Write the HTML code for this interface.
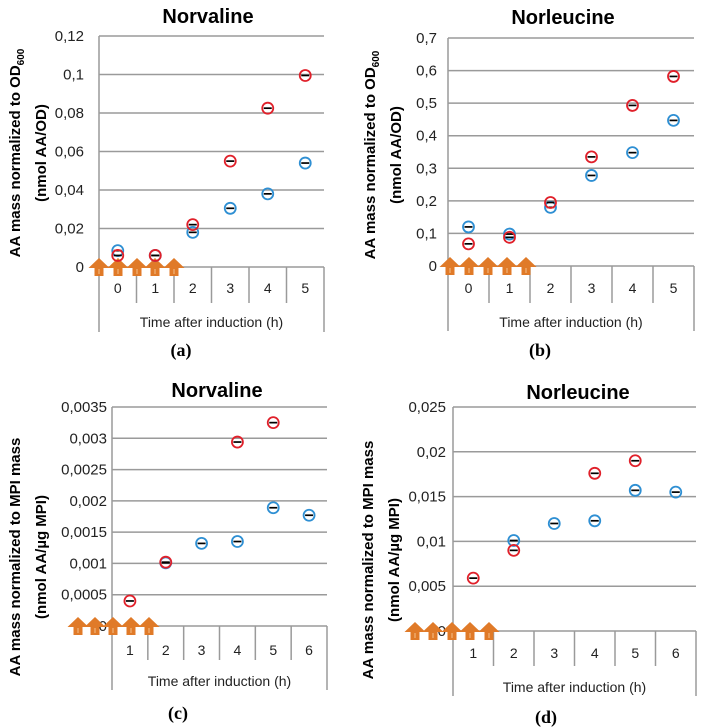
<!DOCTYPE html>
<html><head><meta charset="utf-8">
<style>
html,body{margin:0;padding:0;background:#fff;}
svg{display:block;font-family:"Liberation Sans",sans-serif;}
.tick{font-size:15px;fill:#222;}
.title{font-size:20px;font-weight:bold;fill:#000;}
.ylab{font-size:15px;font-weight:bold;fill:#000;}
.cat{font-size:14px;fill:#222;}
.panel{font-size:18px;font-weight:bold;font-family:"Liberation Serif",serif;fill:#000;}
</style></head>
<body>
<svg id="fig" width="706" height="728" viewBox="0 0 706 728"></svg>
<script>
// Panel (a) data
const catsA = ["0","1","2","3","4","5"];
const redA = [0.006,0.006,0.022,0.055,0.0825,0.0995];
const blueA = [0.0085,0.006,0.018,0.0305,0.038,0.054];
const ticksA = ["0","0,02","0,04","0,06","0,08","0,1","0,12"];
// Panel (b) data
const catsB = ["0","1","2","3","4","5"];
const redB = [0.068,0.088,0.195,0.335,0.493,0.582];
const blueB = [0.12,0.098,0.18,0.278,0.348,0.447];
const ticksB = ["0","0,1","0,2","0,3","0,4","0,5","0,6","0,7"];
// Panel (c) data
const catsC = ["1","2","3","4","5","6"];
const redC = [0.0004,0.00102,null,0.00294,0.00325,null];
const blueC = [null,0.00101,0.00132,0.00135,0.00189,0.00177];
const ticksC = ["0","0,0005","0,001","0,0015","0,002","0,0025","0,003","0,0035"];
// Panel (d) data
const catsD = ["1","2","3","4","5","6"];
const redD = [0.0059,0.009,null,0.0176,0.019,null];
const blueD = [null,0.0101,0.012,0.0123,0.0157,0.0155];
const ticksD = ["0","0,005","0,01","0,015","0,02","0,025"];

const NS="http://www.w3.org/2000/svg";
const svg=document.getElementById('fig');
function mk(tag,attrs,parent,text){const e=document.createElementNS(NS,tag);for(const k in attrs)e.setAttribute(k,attrs[k]);if(text!==undefined)e.textContent=text;(parent||svg).appendChild(e);return e;}

function panel(cfg){
  const g=mk('g',{});
  
  
  const x0=cfg.x0,x1=cfg.x1,yTop=cfg.yTop,yBase=cfg.yBase;
  const step=cfg.step, maxV=step*(cfg.ticks.length-1);
  const ys=v=>yBase-(v/maxV)*(yBase-yTop);
  const n=cfg.cats.length, bw=(x1-x0)/n;
  const xs=i=>x0+bw*(i+0.5);
  cfg.ticks.forEach((t,i)=>{
    const y=ys(i*step);
    const l=mk('line',{x1:x0,x2:x1,y1:y,y2:y,stroke:'#9a9a9a','stroke-width':1.5},g);
    
    
    const tx=mk('text',{x:cfg.tickX,y:y+5,'text-anchor':'end',class:'tick'},g,t);
    
    
  });
  mk('line',{x1:x0,x2:x0,y1:yTop,y2:cfg.yEnd,stroke:'#9a9a9a','stroke-width':1.5},g);
  mk('line',{x1:x1,x2:x1,y1:yBase,y2:cfg.yEnd,stroke:'#9a9a9a','stroke-width':1.5},g);
  for(let i=1;i<n;i++){mk('line',{x1:x0+bw*i,x2:x0+bw*i,y1:yBase,y2:cfg.yMid,stroke:'#9a9a9a','stroke-width':1.5},g);}
  cfg.cats.forEach((c,i)=>{
    const t=mk('text',{x:xs(i),y:cfg.catY,'text-anchor':'middle',class:'cat'},g,c);
    
    
  });
  const xt=mk('text',{x:(x0+x1)/2,y:cfg.timeY,'text-anchor':'middle',class:'cat'},g,'Time after induction (h)');
  
  
  const tt=mk('text',{x:cfg.titleX,y:cfg.titleY,'text-anchor':'middle',class:'title'},g,cfg.title);
  
  
  const yl=mk('text',{transform:`translate(${cfg.ylX},${cfg.ylY}) rotate(-90)`,'text-anchor':'middle',class:'ylab'},g);
  
  
  const t1=mk('tspan',{x:0,y:0},yl,cfg.yl1);
  if(cfg.sub){mk('tspan',{'font-size':'10px',dy:4},t1,cfg.sub);}
  mk('tspan',{x:0,y:26},yl,cfg.yl2);
  const pl=mk('text',{x:cfg.plX,y:cfg.plY,'text-anchor':'middle',class:'panel'},g,cfg.letter);
  
  
  cfg.arrows.forEach(ax=>{
    const a=mk('path',{d:`M${ax} ${yBase-9} L${ax+10.5} ${yBase+1} L${ax+4.5} ${yBase+1} L${ax+4.5} ${yBase+9} L${ax-4.5} ${yBase+9} L${ax-4.5} ${yBase+1} L${ax-10.5} ${yBase+1} Z`,fill:'#e07a28'},g);
    
    
    mk('line',{x1:ax,x2:ax,y1:yBase+2,y2:yBase+7,stroke:'#f5c08a','stroke-width':1},g);
  });
  function series(vals,color,name){
    vals.forEach((v,i)=>{
      if(v===null)return;
      const cx=xs(i),cy=ys(v);
      const c=mk('circle',{cx:cx,cy:cy,r:5.5,fill:'none',stroke:color,'stroke-width':1.8},g);
      
      
      const e=mk('line',{x1:cx-4,x2:cx+4,y1:cy,y2:cy,stroke:'#000','stroke-width':1.7},g);
      
      
    });
  }
  series(cfg.blue,'#2e8fd3','blue-series');
  series(cfg.red,'#e0202a','red-series');
}

panel({id:'panel-a',title:'Norvaline',titleX:208,titleY:23,cats:catsA,red:redA,blue:blueA,ticks:ticksA,step:0.02,
  x0:99,x1:324,yTop:36,yBase:267,yMid:303,yEnd:332,catY:293,timeY:327,tickX:84,
  ylX:20,ylY:153,yl1:'AA mass normalized to OD',sub:'600',yl2:'(nmol AA/OD)',letter:'(a)',plX:181,plY:356,
  arrows:[99,118,137,155,174]});
panel({id:'panel-b',title:'Norleucine',titleX:563,titleY:24,cats:catsB,red:redB,blue:blueB,ticks:ticksB,step:0.1,
  x0:448,x1:694,yTop:38,yBase:266,yMid:303,yEnd:331,catY:293,timeY:327,tickX:437,
  ylX:375,ylY:155,yl1:'AA mass normalized to OD',sub:'600',yl2:'(nmol AA/OD)',letter:'(b)',plX:540,plY:356,
  arrows:[450,469,488,507,526]});
panel({id:'panel-c',title:'Norvaline',titleX:217,titleY:397,cats:catsC,red:redC,blue:blueC,ticks:ticksC,step:0.0005,
  x0:112,x1:327,yTop:407,yBase:626,yMid:660,yEnd:690,catY:655,timeY:686,tickX:107,
  ylX:20,ylY:557,yl1:'AA mass normalized to MPI mass',yl2:'(nmol AA/µg MPI)',letter:'(c)',plX:178,plY:719,
  arrows:[78,95,113,131,149]});
panel({id:'panel-d',title:'Norleucine',titleX:578,titleY:399,cats:catsD,red:redD,blue:blueD,ticks:ticksD,step:0.005,
  x0:453,x1:696,yTop:407,yBase:631,yMid:666,yEnd:696,catY:658,timeY:692,tickX:446,
  ylX:373,ylY:560,yl1:'AA mass normalized to MPI mass',yl2:'(nmol AA/µg MPI)',letter:'(d)',plX:546,plY:723,
  arrows:[415,433,452,470,489]});
</script>
</body></html>
